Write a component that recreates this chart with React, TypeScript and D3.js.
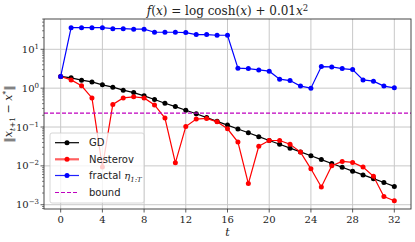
import { useEffect, useRef } from "react";
import * as d3 from "d3";

// iteration index t
const steps = d3.range(0, 33);

// ||x_{t+1} - x*||
const gdValues = [
  2.0, 1.84, 1.61, 1.45, 1.22, 1.06, 0.89, 0.77, 0.634, 0.51, 0.41, 0.335, 0.27,
  0.22, 0.175, 0.14, 0.112, 0.089, 0.071, 0.0565, 0.045, 0.0359, 0.0286, 0.0229,
  0.0182, 0.0145, 0.0115, 0.0092, 0.0073, 0.00585, 0.00468, 0.00372, 0.00296,
];
const nesterovValues = [
  2.0, 1.63, 1.15, 0.56, 0.0093, 0.38, 0.56, 0.6, 0.56, 0.37, 0.17, 0.012, 0.103,
  0.16, 0.166, 0.136, 0.09, 0.041, 0.0035, 0.032, 0.045, 0.045, 0.036, 0.0226,
  0.0084, 0.00285, 0.0101, 0.013, 0.0123, 0.0093, 0.0054, 0.00163, 0.00127,
];
const fractalValues = [
  2.0, 36.1, 36.1, 36.1, 36.1, 34.0, 34.0, 32.9, 32.9, 27.5, 27.5, 27.5, 27.0,
  23.9, 23.9, 23.0, 23.0, 3.27, 3.2, 2.95, 2.74, 1.7, 1.57, 1.13, 1.0, 3.59, 3.53,
  3.19, 3.0, 1.63, 1.51, 1.13, 1.02,
];
const boundValue = 0.228;

const xTicks = [0, 4, 8, 12, 16, 20, 24, 28, 32];
const yTicks = [10, 1, 0.1, 0.01, 0.001];
const yTickExps = ["1", "0", "\u22121", "\u22122", "\u22123"];

const W = 415;
const H = 242;
const L = 44;
const R = 411;
const T = 19;
const B = 209;
const serif = "'DejaVu Serif', serif";
const sans = "'DejaVu Sans', sans-serif";

export default function App() {
  const svgRef = useRef<SVGSVGElement | null>(null);

  useEffect(() => {
    if (!svgRef.current) return;
    const svg = d3.select(svgRef.current);
    svg.selectAll("*").remove();

    const x = d3.scaleLinear().domain([-1.6, 33.6]).range([L, R]);
    const y = d3
      .scaleLog()
      .domain([Math.pow(10, -3.11), Math.pow(10, 1.78)])
      .range([B, T]);

    svg.append("rect").attr("width", W).attr("height", H).attr("fill", "white");

    // grid
    const gGrid = svg.append("g").attr("class", "grid");
    gGrid
      .selectAll("line.xg")
      .data(xTicks)
      .enter()
      .append("line")
      .attr("x1", (d) => x(d))
      .attr("x2", (d) => x(d))
      .attr("y1", T)
      .attr("y2", B)
      .attr("stroke", "#c8c8c8")
      .attr("stroke-width", 1);
    gGrid
      .selectAll("line.yg")
      .data(yTicks)
      .enter()
      .append("line")
      .attr("x1", L)
      .attr("x2", R)
      .attr("y1", (d) => y(d))
      .attr("y2", (d) => y(d))
      .attr("stroke", "#c8c8c8")
      .attr("stroke-width", 1);

    svg
      .append("clipPath")
      .attr("id", "plotclip")
      .append("rect")
      .attr("x", L)
      .attr("y", T)
      .attr("width", R - L)
      .attr("height", B - T);
    const plot = svg.append("g").attr("clip-path", "url(#plotclip)");

    const series = [
      { name: "GD", values: gdValues, color: "#000000" },
      { name: "Nesterov", values: nesterovValues, color: "#ff0000" },
      { name: "fractal", values: fractalValues, color: "#0000ff" },
    ];

    const lineGen = d3
      .line<number>()
      .x((_, i) => x(steps[i]))
      .y((d) => y(d));

    series.forEach((s) => {
      plot
        .append("path")
        .attr("d", lineGen(s.values))
        .attr("fill", "none")
        .attr("stroke", s.color)
        .attr("stroke-width", 1.2);
      plot
        .selectAll(null)
        .data(s.values)
        .enter()
        .append("circle")
        .attr("cx", (_, i) => x(steps[i]))
        .attr("cy", (d) => y(d))
        .attr("r", 2.5)
        .attr("fill", s.color);
    });

    plot
      .append("line")
      .attr("x1", L)
      .attr("x2", R)
      .attr("y1", y(boundValue))
      .attr("y2", y(boundValue))
      .attr("stroke", "#bf00bf")
      .attr("stroke-width", 1.1)
      .attr("stroke-dasharray", "4,2");

    // frame
    svg
      .append("rect")
      .attr("x", L)
      .attr("y", T)
      .attr("width", R - L)
      .attr("height", B - T)
      .attr("fill", "none")
      .attr("stroke", "#333")
      .attr("stroke-width", 0.9);

    // x axis ticks
    const gx = svg.append("g");
    xTicks.forEach((t) => {
      gx.append("line")
        .attr("x1", x(t))
        .attr("x2", x(t))
        .attr("y1", B)
        .attr("y2", B + 3.5)
        .attr("stroke", "#333")
        .attr("stroke-width", 0.8);
      gx.append("text")
        .attr("x", x(t))
        .attr("y", B + 14)
        .attr("text-anchor", "middle")
        .attr("font-family", serif)
        .attr("font-size", 10)
        .attr("fill", "#222")
        .text(String(t));
    });

    // y axis ticks (major + minor)
    const gy = svg.append("g");
    yTicks.forEach((v, i) => {
      gy.append("line")
        .attr("x1", L - 3.5)
        .attr("x2", L)
        .attr("y1", y(v))
        .attr("y2", y(v))
        .attr("stroke", "#333")
        .attr("stroke-width", 0.8);
      const tx = gy
        .append("text")
        .attr("x", L - 5)
        .attr("y", y(v) + 3.5)
        .attr("text-anchor", "end")
        .attr("font-family", serif)
        .attr("font-size", 10)
        .attr("fill", "#222");
      tx.append("tspan").text("10");
      tx.append("tspan")
        .attr("dy", -4)
        .attr("font-size", 7)
        .text(yTickExps[i]);
    });
    const [d0, d1] = y.domain();
    for (let e = -4; e <= 1; e++) {
      for (let m = 2; m <= 9; m++) {
        const v = m * Math.pow(10, e);
        if (v < d0 || v > d1) continue;
        gy.append("line")
          .attr("x1", L - 2)
          .attr("x2", L)
          .attr("y1", y(v))
          .attr("y2", y(v))
          .attr("stroke", "#333")
          .attr("stroke-width", 0.6);
      }
    }

    // title
    const title = svg
      .append("text")
      .attr("x", (L + R) / 2)
      .attr("y", 15)
      .attr("text-anchor", "middle")
      .attr("font-family", serif)
      .attr("font-size", 12)
      .attr("fill", "#222");
    title.append("tspan").attr("font-style", "italic").text("f");
    title.append("tspan").text("(");
    title.append("tspan").attr("font-style", "italic").text("x");
    title.append("tspan").text(") = log cosh(");
    title.append("tspan").attr("font-style", "italic").text("x");
    title.append("tspan").text(") + 0.01");
    title.append("tspan").attr("font-style", "italic").text("x");
    title.append("tspan").attr("dy", -4).attr("font-size", 8.5).text("2");

    // x label
    svg
      .append("text")
      .attr("x", (L + R) / 2)
      .attr("y", 236)
      .attr("text-anchor", "middle")
      .attr("font-family", serif)
      .attr("font-style", "italic")
      .attr("font-size", 11)
      .attr("fill", "#222")
      .text("t");

    // y label
    const yl = svg
      .append("text")
      .attr("transform", `translate(12,${(T + B) / 2}) rotate(-90)`)
      .attr("text-anchor", "middle")
      .attr("font-family", serif)
      .attr("font-size", 11)
      .attr("fill", "#222");
    yl.append("tspan").text("\u2016");
    yl.append("tspan").attr("font-style", "italic").text("x");
    yl.append("tspan").attr("dy", 3).attr("font-size", 7.5).attr("font-style", "italic").text("t");
    yl.append("tspan").attr("font-size", 7.5).text("+1");
    yl.append("tspan").attr("dy", -3).text(" \u2212 ");
    yl.append("tspan").attr("font-style", "italic").text("x");
    yl.append("tspan").attr("dy", -4).attr("font-size", 7.5).text("*");
    yl.append("tspan").attr("dy", 4).text("\u2016");

    // legend
    const lg = svg.append("g");
    lg.append("rect")
      .attr("x", 50)
      .attr("y", 133)
      .attr("width", 94)
      .attr("height", 70)
      .attr("rx", 2)
      .attr("fill", "white")
      .attr("fill-opacity", 0.8)
      .attr("stroke", "#cccccc")
      .attr("stroke-width", 0.8);
    const entries = [
      { label: "GD", color: "#000000", width: 1.2, dash: null as string | null, marker: true },
      { label: "Nesterov", color: "#ff6060", width: 2.2, dash: null, marker: true },
      { label: "fractal", color: "#2020ff", width: 1.2, dash: null, marker: true },
      { label: "bound", color: "#bf00bf", width: 1.1, dash: "4,2", marker: false },
    ];
    const legendY = [142.7, 159.3, 175.5, 192.5];
    entries.forEach((e, i) => {
      const ly = legendY[i];
      const ln = lg
        .append("line")
        .attr("x1", 55)
        .attr("x2", 79)
        .attr("y1", ly)
        .attr("y2", ly)
        .attr("stroke", e.color)
        .attr("stroke-width", e.width);
      if (e.dash) ln.attr("stroke-dasharray", e.dash);
      if (e.marker) {
        lg.append("circle")
          .attr("cx", 67)
          .attr("cy", ly)
          .attr("r", 2.5)
          .attr("fill", series[i].color);
      }
      const tx = lg
        .append("text")
        .attr("x", 89)
        .attr("y", ly + 3.6)
        .attr("font-family", sans)
        .attr("font-size", 10)
        .attr("fill", "#222")
        .text(e.label);
      if (e.label === "fractal") {
        tx.append("tspan").text(" ");
        tx.append("tspan")
          .attr("font-family", serif)
          .attr("font-style", "italic")
          .text("\u03b7");
        tx.append("tspan")
          .attr("dy", 2.5)
          .attr("font-family", serif)
          .attr("font-style", "italic")
          .attr("font-size", 7)
          .text("1:T");
      }
    });
  }, []);

  return (
    <svg
      ref={svgRef}
      width={W}
      height={H}
      style={{ position: "absolute", left: 0, top: 0 }}
    />
  );
}
